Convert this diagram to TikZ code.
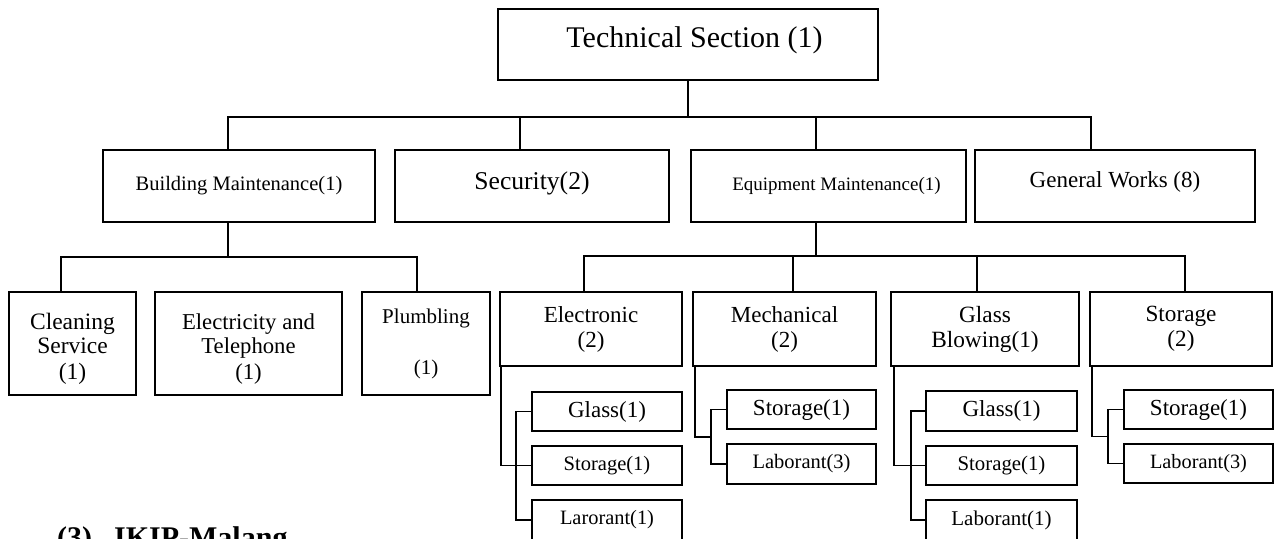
\documentclass[tikz,border=0pt]{standalone}
\usepackage{fontspec}
\setmainfont{Liberation Serif}
\usetikzlibrary{calc}
\newcommand{\fsz}[1]{\fontsize{#1}{#1}\selectfont}
\begin{document}
\begin{tikzpicture}[x=1pt,y=-1pt,
  box/.style={draw, line width=1.7pt, inner sep=0pt, align=center},
  conn/.style={line width=1.8pt},
  leaf/.style={box, minimum width=150, minimum height=39}]
\useasboundingbox[fill=white] (0,0) rectangle (1274,538);
% coordinates for bus lines
\coordinate (bus) at (0,117);
\coordinate (busL) at (0,257);
\coordinate (busR) at (0,256);
\coordinate (xB) at (228,0);
\coordinate (xS) at (520,0);
\coordinate (xE) at (816,0);
\coordinate (xG) at (1091,0);
\coordinate (xC) at (61,0);
\coordinate (xP) at (417,0);
\coordinate (xEC) at (584,0);
\coordinate (xM) at (793,0);
\coordinate (xGB) at (977,0);
\coordinate (xST) at (1185,0);
% top
\node[box,font=\fsz{30},text height=12pt,text depth=7pt,minimum width=380,minimum height=71] (T) at (688,44.5) {\hspace*{13pt}Technical Section (1)};
% row 2
\node[box,font=\fsz{20.5},text height=12pt,text depth=4pt,minimum width=272,minimum height=72] (B) at (239,186) {Building Maintenance(1)};
\node[box,font=\fsz{25.6},text height=11pt,text depth=5pt,minimum width=274,minimum height=72] (S) at (532,186) {Security(2)};
\node[box,font=\fsz{19},text height=12pt,text depth=4pt,minimum width=275,minimum height=72] (E) at (828.5,186) {\hspace*{16pt}Equipment Maintenance(1)};
\node[box,font=\fsz{23},text height=10pt,text depth=8pt,minimum width=280,minimum height=72] (G) at (1115,186) {General Works (8)};
% row 3 left
\node[box,font=\fontsize{23.5}{24}\selectfont,minimum width=127,minimum height=103] (C) at (72.5,343.5) {\rule{0pt}{26pt}Cleaning\\Service\\[2pt](1)};
\node[box,font=\fontsize{22.7}{24}\selectfont,minimum width=187,minimum height=103] (EL) at (248.5,343.5) {\rule{0pt}{26pt}Electricity and\\Telephone\\[2pt](1)};
\node[box,font=\fontsize{21}{24}\selectfont,minimum width=128,minimum height=103] (P) at (426,343.5) {Plumbling\\[27pt](1)};
% row 3 right
\node[box,font=\fontsize{23}{25}\selectfont,minimum width=182,minimum height=74] (EC) at (591,329) {Electronic\\(2)};
\node[box,font=\fontsize{23}{25}\selectfont,minimum width=183,minimum height=74] (M) at (784.5,329) {Mechanical\\(2)};
\node[box,font=\fontsize{23.3}{25}\selectfont,minimum width=188,minimum height=74] (GB) at (985,329) {Glass\\Blowing(1)};
\node[box,font=\fontsize{23.2}{25}\selectfont,minimum width=182,minimum height=74] (ST) at (1181,329) {Storage\\(2)};
% leaves
\node[leaf,font=\fsz{23}] (E1) at (607,411.5) {Glass(1)};
\node[leaf,font=\fsz{20.5}] (E2) at (607,465.5) {Storage(1)};
\node[leaf,font=\fsz{20.4},minimum height=40] (E3) at (607,520) {Larorant(1)};
\node[leaf,font=\fsz{23},minimum width=149] (M1) at (801.5,409.5) {Storage(1)};
\node[leaf,font=\fsz{20.5},minimum width=149,minimum height=40] (M2) at (801.5,464) {Laborant(3)};
\node[leaf,font=\fsz{23},minimum width=151,minimum height=40] (G1) at (1001.5,411) {Glass(1)};
\node[leaf,font=\fsz{20.8},minimum width=151] (G2) at (1001.5,465.5) {Storage(1)};
\node[leaf,font=\fsz{21},minimum width=151,minimum height=40] (G3) at (1001.5,520) {Laborant(1)};
\node[leaf,font=\fsz{23},minimum width=149] (S1) at (1198.5,409.5) {Storage(1)};
\node[leaf,font=\fsz{20.3},minimum width=149] (S2) at (1198.5,463.5) {Laborant(3)};
% caption
\node[anchor=base west,inner sep=0pt,font=\fsz{30}\bfseries] (cap) at (57,547) {(3)\hspace{22pt}IKIP-Malang};
% connectors level 1
\draw[conn] (T.south) -- (T.south |- bus);
\draw[conn] (xB |- B.north) |- (xG |- bus) -- (xG |- G.north);
\draw[conn] (xS |- bus) -- (xS |- S.north);
\draw[conn] (xE |- bus) -- (xE |- E.north);
% building
\draw[conn] (xB |- B.south) -- (xB |- busL);
\draw[conn] (xC |- C.north) |- (xP |- busL) -- (xP |- P.north);
% equipment
\draw[conn] (xE |- E.south) -- (xE |- busR);
\draw[conn] (xEC |- EC.north) |- (xST |- busR) -- (xST |- ST.north);
\draw[conn] (xM |- busR) -- (xM |- M.north);
\draw[conn] (xGB |- busR) -- (xGB |- GB.north);
% electronic leaves
\draw[conn] ([xshift=2]EC.south west) |- (E2.west);
\draw[conn] (E1.west) -- ++(-15,0) |- (E3.west);
% mechanical leaves
\draw[conn] ([xshift=3]M.south west) |- ($(M1.west)!0.5!(M2.west)+(-15,0)$);
\draw[conn] (M1.west) -- ++(-15,0) |- (M2.west);
% glass blowing leaves
\draw[conn] ([xshift=4]GB.south west) |- (G2.west);
\draw[conn] (G1.west) -- ++(-14,0) |- (G3.west);
% storage leaves
\draw[conn] ([xshift=3]ST.south west) |- ($(S1.west)!0.5!(S2.west)+(-15,0)$);
\draw[conn] (S1.west) -- ++(-15,0) |- (S2.west);
\end{tikzpicture}
\end{document}
